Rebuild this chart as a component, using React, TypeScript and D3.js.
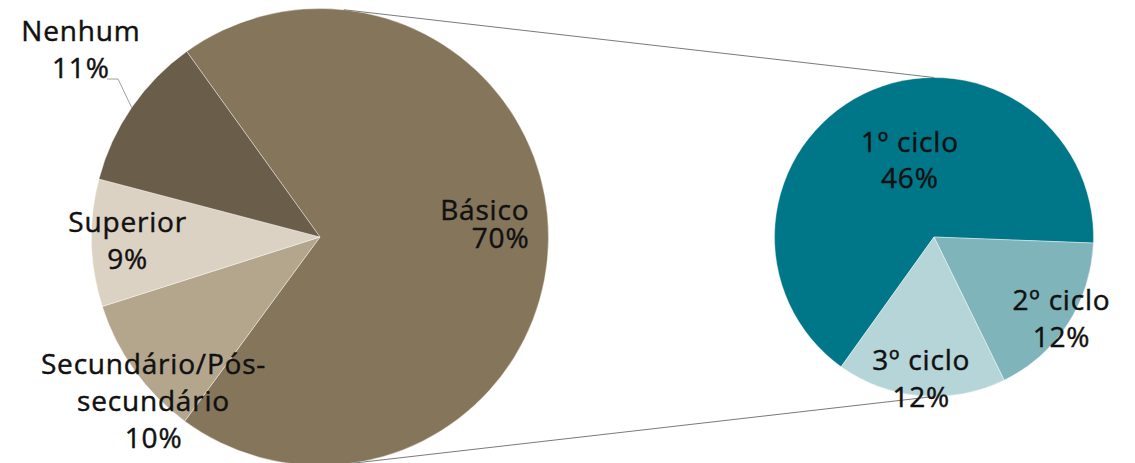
import React from "react";
import * as d3 from "d3";

const outerCategories = ["Básico", "Secundário/Pós-secundário", "Superior", "Nenhum"];
const outerValues = [70, 10, 9, 11];
const outerLabelLines = [["Básico", "70%"], ["Secundário/Pós-", "secundário", "10%"], ["Superior", "9%"], ["Nenhum", "11%"]];

const innerCategories = ["1º ciclo", "2º ciclo", "3º ciclo"];
const innerValues = [46, 12, 12];
const innerLabelLines = [["1º ciclo", "46%"], ["2º ciclo", "12%"], ["3º ciclo", "12%"]];

const outerColors = ["#85765B", "#B4A68D", "#DCD2C3", "#6A5D49"];
const innerColors = ["#007789", "#80B4BB", "#B6D5D9"];

const W = 1135;
const H = 463;
const FONT = "'Open Sans', sans-serif";
const FS = 28;
const deg = Math.PI / 180;

// label layout: radius factor, angle offset (deg), line height, anchor
const outerLabelLayout = [
  { k: 0.918, da: -3.9, lh: 28, anchor: "end" },
  { k: 1.023, da: -8.9, lh: 37, anchor: "middle" },
  { k: 0.842, da: 0.4, lh: 37, anchor: "middle" },
  { k: 1.33, da: 3.6, lh: 37, anchor: "middle" },
];
const innerLabelLayout = [
  { k: 0.506, da: 8.7, lh: 36, anchor: "middle" },
  { k: 0.95, da: -0.3, lh: 37, anchor: "middle" },
  { k: 0.895, da: 0.4, lh: 37, anchor: "middle" },
];

function polar(cx: number, cy: number, r: number, a: number): [number, number] {
  return [cx + r * Math.sin(a), cy - r * Math.cos(a)];
}

function Label({ x, y, lines, lh, anchor }: any) {
  const n = lines.length;
  return (
    <text
      x={x}
      textAnchor={anchor}
      fontFamily={FONT}
      fontSize={FS}
      letterSpacing={0.8}
      fill="#111"
      stroke="#111"
      strokeWidth={0.45}
    >
      {lines.map((l: string, i: number) => (
        <tspan key={i} x={x} y={y + (i - (n - 1) / 2) * lh + 0.35 * FS}>
          {l}
        </tspan>
      ))}
    </text>
  );
}

export default function App() {
  const L = { cx: 320, cy: 237, r: 228.5 };
  const R = { cx: 934, cy: 237, r: 159.5 };

  const outerStart = -35.7 * deg;
  const outerPie = d3
    .pie<number>()
    .sort(null)
    .value((d) => d)
    .startAngle(outerStart)
    .endAngle(outerStart + 2 * Math.PI);
  const outerArcs = outerPie(outerValues);

  const innerStart = -144.4 * deg;
  const innerPie = d3
    .pie<number>()
    .sort(null)
    .value((d) => d)
    .startAngle(innerStart)
    .endAngle(innerStart + 2 * Math.PI);
  const innerArcs = innerPie(innerValues);

  const outerArc = d3.arc<any>().innerRadius(0).outerRadius(L.r);
  const innerArc = d3.arc<any>().innerRadius(0).outerRadius(R.r);

  // connector lines
  const a1 = 6 * deg;
  const topL = polar(L.cx, L.cy, L.r, a1);
  const botL = polar(L.cx, L.cy, L.r, Math.PI - a1);
  const topR = polar(R.cx, R.cy, R.r, 0);
  const botR = polar(R.cx, R.cy, R.r, Math.PI);

  // Nenhum leader
  const nIdx = 3;
  const nMid = (outerArcs[nIdx].startAngle + outerArcs[nIdx].endAngle) / 2;
  const nEdge = polar(L.cx, L.cy, L.r, nMid);

  return (
    <svg width={W} height={H} style={{ position: "absolute", left: 0, top: 0, background: "#fff" }}>
      <g transform={`translate(${L.cx},${L.cy})`}>
        {outerArcs.map((a, i) => (
          <path key={outerCategories[i]} d={outerArc(a) as string} fill={outerColors[i]} stroke="#fff" strokeWidth={0.4} />
        ))}
      </g>
      <g transform={`translate(${R.cx},${R.cy})`}>
        {innerArcs.map((a, i) => (
          <path key={innerCategories[i]} d={innerArc(a) as string} fill={innerColors[i]} stroke="#fff" strokeWidth={0.4} />
        ))}
      </g>
      <line x1={topL[0]} y1={topL[1]} x2={topR[0]} y2={topR[1]} stroke="#7a7a7a" strokeWidth={1} />
      <line x1={botL[0]} y1={botL[1]} x2={botR[0]} y2={botR[1]} stroke="#7a7a7a" strokeWidth={1} />
      <polyline
        points={`107,79 118,79 ${nEdge[0]},${nEdge[1]}`}
        fill="none"
        stroke="#a0a0a0"
        strokeWidth={1}
      />
      {outerArcs.map((a, i) => {
        const lay = outerLabelLayout[i];
        const mid = (a.startAngle + a.endAngle) / 2 + lay.da * deg;
        const [x, y] = polar(L.cx, L.cy, lay.k * L.r, mid);
        return <Label key={i} x={x} y={y} lines={outerLabelLines[i]} lh={lay.lh} anchor={lay.anchor} />;
      })}
      {innerArcs.map((a, i) => {
        const lay = innerLabelLayout[i];
        const mid = (a.startAngle + a.endAngle) / 2 + lay.da * deg;
        const [x, y] = polar(R.cx, R.cy, lay.k * R.r, mid);
        return <Label key={i} x={x} y={y} lines={innerLabelLines[i]} lh={lay.lh} anchor={lay.anchor} />;
      })}
    </svg>
  );
}
